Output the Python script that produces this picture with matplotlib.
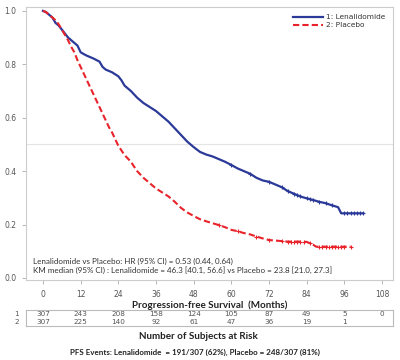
import numpy as np
import matplotlib
matplotlib.use("Agg")
import matplotlib.pyplot as plt

# Kaplan-Meier estimates (months, survival)
len_t = [0, 1, 2, 3, 4, 5, 6, 7, 8, 9, 10, 11, 12, 13, 14, 16, 18, 19, 20, 22, 24, 25, 26, 28,
         30, 32, 34, 36, 38, 40, 42, 44, 46, 48, 50, 52, 54, 56, 58, 60, 62, 64, 66, 68, 70,
         72, 74, 76, 78, 80, 82, 84, 86, 88, 90, 92, 94, 95, 102]
len_s = [1.0, 0.995, 0.985, 0.975, 0.955, 0.945, 0.93, 0.915, 0.90, 0.89, 0.88, 0.87, 0.845,
         0.838, 0.832, 0.822, 0.81, 0.79, 0.78, 0.77, 0.755, 0.74, 0.72, 0.70, 0.675, 0.655,
         0.64, 0.625, 0.605, 0.585, 0.56, 0.535, 0.51, 0.49, 0.472, 0.462, 0.455, 0.445, 0.435,
         0.423, 0.41, 0.40, 0.39, 0.375, 0.365, 0.36, 0.35, 0.34, 0.325, 0.315, 0.305, 0.298,
         0.292, 0.285, 0.28, 0.272, 0.265, 0.242, 0.242]
pbo_t = [0, 1, 2, 3, 4, 5, 6, 7, 8, 9, 10, 11, 12, 13, 14, 15, 16, 17, 18, 19, 20, 21, 22, 23,
         24, 26, 28, 30, 32, 34, 36, 38, 40, 42, 44, 46, 48, 50, 52, 54, 56, 58, 60, 62, 64, 66,
         68, 70, 72, 74, 76, 78, 80, 82, 84, 86, 87, 98]
pbo_s = [1.0, 0.995, 0.985, 0.975, 0.965, 0.95, 0.93, 0.91, 0.89, 0.865, 0.845, 0.815, 0.79,
         0.765, 0.74, 0.715, 0.69, 0.665, 0.64, 0.615, 0.59, 0.565, 0.545, 0.52, 0.495, 0.46,
         0.435, 0.40, 0.375, 0.355, 0.335, 0.32, 0.305, 0.285, 0.262, 0.245, 0.232, 0.22, 0.212,
         0.205, 0.198, 0.19, 0.18, 0.175, 0.168, 0.163, 0.155, 0.148, 0.142, 0.14, 0.138, 0.136,
         0.136, 0.136, 0.135, 0.125, 0.117, 0.117]

# censoring times
len_cens = [60, 66, 72, 76, 78, 80, 81, 82, 84, 85, 86, 88, 90, 92, 96, 97, 98, 99, 100, 101, 102]
pbo_cens = [56, 62, 68, 72, 76, 78, 79, 80, 81, 82, 83, 85, 88, 89, 90, 91, 92, 93, 94, 95, 96, 98]

risk_times = [0, 12, 24, 36, 48, 60, 72, 84, 96, 108]
risk_len = [307, 243, 208, 158, 124, 105, 87, 49, 5, 0]
risk_pbo = [307, 225, 140, 92, 61, 47, 36, 19, 1, ""]

blue = "#2b3a98"
red = "#e8232b"
gray = "#555555"

fig = plt.figure(figsize=(4, 3.6), dpi=100)
ax = fig.add_axes([0.065, 0.222, 0.9175, 0.759])
tab = fig.add_axes([0.065, 0.094, 0.9175, 0.045], sharex=ax)


def curve_at(ts, ss, x):
    return np.interp(x, ts, ss)


ax.axhline(0.5, color="#e4e4e4", lw=0.8, zorder=0)
ax.plot(len_t, len_s, color=blue, lw=1.6, label="1: Lenalidomide")
ax.plot(pbo_t, pbo_s, color=red, lw=1.5, ls=(0, (3, 1.5)), label="2: Placebo")
ax.plot(len_cens, curve_at(len_t, len_s, len_cens), "+", color=blue, ms=3, mew=0.8)
ax.plot(pbo_cens, curve_at(pbo_t, pbo_s, pbo_cens), "+", color=red, ms=3, mew=0.8)

ax.set_xlim(-5.4, 111.5)
ax.set_ylim(-0.008, 1.015)
ax.set_xticks(risk_times)
ax.set_yticks([0.0, 0.2, 0.4, 0.6, 0.8, 1.0])
ax.yaxis.set_major_formatter(plt.FormatStrFormatter("%.1f"))
ax.tick_params(labelsize=5.5, colors="#aaaaaa", labelcolor=gray, length=3, width=0.6,
               pad=4)
for s in ax.spines.values():
    s.set_color("#cccccc")
    s.set_linewidth(0.8)

leg = ax.legend(loc="upper right", fontsize=5.3, frameon=False, handlelength=4.2,
                handletextpad=0.4, borderaxespad=0.6, labelspacing=0.25)
for t in leg.get_texts():
    t.set_color("#333333")

ax.text(0.018, 0.06, "Lenalidomide vs Placebo: HR (95% CI) = 0.53 (0.44, 0.64)",
        transform=ax.transAxes, fontsize=5.8, family="Lato", color="#333333")
ax.text(0.018, 0.026,
        "KM median (95% CI) : Lenalidomide = 46.3 [40.1, 56.6] vs Placebo = 23.8 [21.0, 27.3]",
        transform=ax.transAxes, fontsize=5.8, family="Lato", color="#333333")

ax.set_xlabel("Progression-free Survival  (Months)", fontsize=7.1, family="Lato",
              fontweight="bold", color="#222222", labelpad=1)

# number at risk table
for x, a, b in zip(risk_times, risk_len, risk_pbo):
    tab.text(x, 0.74, str(a), ha="center", va="center", fontsize=5.2, color=gray)
    tab.text(x, 0.24, str(b), ha="center", va="center", fontsize=5.2, color=gray)
tab.text(-0.02, 0.74, "1", transform=tab.transAxes, ha="right", va="center", fontsize=5.2,
         color=gray)
tab.text(-0.02, 0.24, "2", transform=tab.transAxes, ha="right", va="center", fontsize=5.2,
         color=gray)
tab.set_ylim(0, 1)
tab.set_yticks([])
tab.tick_params(axis="x", bottom=False, labelbottom=False)
for s in tab.spines.values():
    s.set_color("#bbbbbb")
    s.set_linewidth(0.8)

fig.text(0.496, 0.064, "Number of Subjects at Risk", ha="center", va="center", fontsize=7.1,
         family="Lato", fontweight="bold", color="#222222")
fig.text(0.4875, 0.022, "PFS Events: Lenalidomide  = 191/307 (62%), Placebo = 248/307 (81%)",
         ha="center", va="center", fontsize=5.8, family="Lato", fontweight="bold",
         color="#222222")

fig.savefig("out.png", dpi=100)
